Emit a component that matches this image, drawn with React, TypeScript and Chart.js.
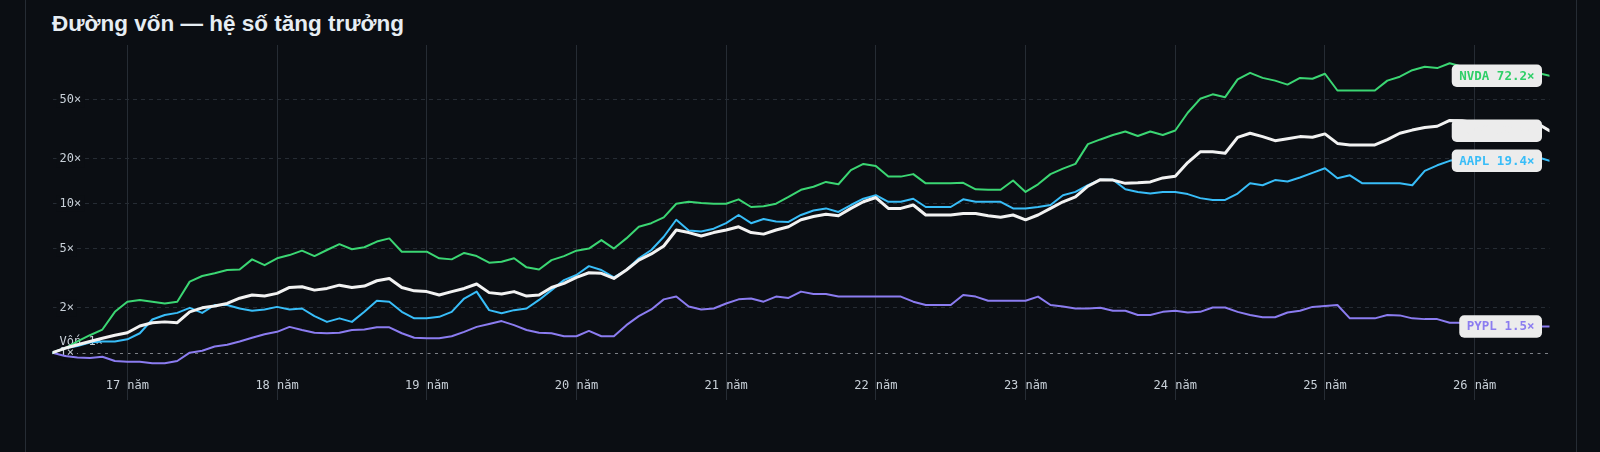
import { useEffect, useRef } from "react"
import { Chart, registerables } from "chart.js"

Chart.register(...registerables)

// month of each sample (first trading month = 1×)
const months = [
  "2016-07", "2016-08", "2016-09", "2016-10", "2016-11", "2016-12",
  "2017-01", "2017-02", "2017-03", "2017-04", "2017-05", "2017-06", "2017-07", "2017-08", "2017-09", "2017-10", "2017-11", "2017-12",
  "2018-01", "2018-02", "2018-03", "2018-04", "2018-05", "2018-06", "2018-07", "2018-08", "2018-09", "2018-10", "2018-11", "2018-12",
  "2019-01", "2019-02", "2019-03", "2019-04", "2019-05", "2019-06", "2019-07", "2019-08", "2019-09", "2019-10", "2019-11", "2019-12",
  "2020-01", "2020-02", "2020-03", "2020-04", "2020-05", "2020-06", "2020-07", "2020-08", "2020-09", "2020-10", "2020-11", "2020-12",
  "2021-01", "2021-02", "2021-03", "2021-04", "2021-05", "2021-06", "2021-07", "2021-08", "2021-09", "2021-10", "2021-11", "2021-12",
  "2022-01", "2022-02", "2022-03", "2022-04", "2022-05", "2022-06", "2022-07", "2022-08", "2022-09", "2022-10", "2022-11", "2022-12",
  "2023-01", "2023-02", "2023-03", "2023-04", "2023-05", "2023-06", "2023-07", "2023-08", "2023-09", "2023-10", "2023-11", "2023-12",
  "2024-01", "2024-02", "2024-03", "2024-04", "2024-05", "2024-06", "2024-07", "2024-08", "2024-09", "2024-10", "2024-11", "2024-12",
  "2025-01", "2025-02", "2025-03", "2025-04", "2025-05", "2025-06", "2025-07", "2025-08", "2025-09", "2025-10", "2025-11", "2025-12",
  "2026-01", "2026-02", "2026-03", "2026-04", "2026-05", "2026-06", "2026-07",
]

const tong = [
  1.0, 1.07, 1.13, 1.19, 1.25, 1.31,
  1.36, 1.51, 1.59, 1.61, 1.59, 1.88, 2.0, 2.06, 2.14, 2.32, 2.44, 2.4,
  2.5, 2.74, 2.77, 2.63, 2.7, 2.84, 2.74, 2.8, 3.04, 3.15, 2.74, 2.6,
  2.57, 2.44, 2.57, 2.7, 2.89, 2.53, 2.48, 2.57, 2.4, 2.44, 2.74, 2.92,
  3.2, 3.44, 3.41, 3.15, 3.59, 4.18, 4.6, 5.2, 6.66, 6.4, 6.07, 6.4,
  6.66, 7.0, 6.4, 6.25, 6.66, 7.0, 7.8, 8.2, 8.5, 8.3, 9.3, 10.3,
  11.0, 9.3, 9.3, 9.8, 8.4, 8.4, 8.4, 8.6, 8.6, 8.3, 8.1, 8.4,
  7.8, 8.4, 9.3, 10.3, 11.1, 13.1, 14.5, 14.4, 13.7, 13.8, 14.0, 14.9,
  15.3, 18.9, 22.3, 22.3, 21.8, 27.9, 29.7, 28.2, 26.5, 27.3, 28.2, 27.9,
  29.4, 25.4, 24.8, 24.8, 24.8, 26.9, 29.7, 31.2, 32.5, 33.1, 36.2, 36.0,
  35.0, 34.0, 31.6, 30.8, 33.5, 34.6, 30.9,
]

const nvda = [
  1.0, 1.07, 1.19, 1.31, 1.43, 1.88,
  2.2, 2.26, 2.2, 2.14, 2.2, 3.0, 3.27, 3.41, 3.59, 3.62, 4.23, 3.87,
  4.3, 4.52, 4.84, 4.45, 4.89, 5.35, 4.95, 5.1, 5.57, 5.85, 4.76, 4.76,
  4.76, 4.3, 4.23, 4.67, 4.45, 4.02, 4.08, 4.3, 3.74, 3.62, 4.18, 4.45,
  4.84, 5.0, 5.7, 5.0, 5.85, 7.0, 7.4, 8.1, 10.0, 10.3, 10.1, 10.0,
  10.0, 10.7, 9.5, 9.6, 10.0, 11.1, 12.4, 13.0, 14.0, 13.5, 16.8, 18.5,
  17.9, 15.2, 15.2, 15.8, 13.7, 13.7, 13.7, 13.8, 12.5, 12.4, 12.4, 14.3,
  12.0, 13.5, 15.8, 17.2, 18.5, 25.1, 27.0, 28.9, 30.5, 28.5, 30.5, 28.9,
  31.0, 40.8, 50.6, 54.2, 51.9, 68.3, 75.6, 69.9, 67.0, 63.0, 69.9, 69.0,
  74.5, 57.5, 57.5, 57.5, 57.5, 67.0, 71.2, 78.7, 83.0, 81.3, 87.6, 83.0,
  81.0, 80.0, 78.0, 81.0, 78.0, 75.6, 72.2,
]

const aapl = [
  1.0, 1.07, 1.11, 1.17, 1.19, 1.19,
  1.23, 1.35, 1.67, 1.79, 1.85, 2.0, 1.85, 2.09, 2.09, 1.98, 1.91, 1.95,
  2.03, 1.95, 1.98, 1.76, 1.61, 1.7, 1.61, 1.88, 2.23, 2.2, 1.88, 1.7,
  1.7, 1.74, 1.88, 2.31, 2.57, 1.93, 1.84, 1.93, 1.98, 2.26, 2.63, 3.07,
  3.32, 3.81, 3.59, 3.2, 3.59, 4.3, 4.89, 6.0, 7.8, 6.6, 6.5, 6.8,
  7.4, 8.4, 7.4, 7.9, 7.6, 7.55, 8.4, 9.0, 9.3, 8.8, 9.8, 10.8,
  11.4, 10.3, 10.3, 10.8, 9.5, 9.5, 9.5, 10.7, 10.3, 10.3, 10.3, 9.3,
  9.3, 9.5, 9.8, 11.4, 12.0, 13.3, 14.5, 14.5, 12.5, 12.0, 11.7, 12.0,
  12.0, 11.6, 10.9, 10.6, 10.6, 11.7, 13.7, 13.3, 14.4, 14.1, 15.0, 16.1,
  17.3, 14.8, 15.5, 13.7, 13.7, 13.7, 13.7, 13.3, 16.6, 18.1, 19.4, 20.1,
  20.6, 20.8, 20.4, 20.8, 21.3, 20.6, 19.4,
]

const pypl = [
  1.0, 0.95, 0.93, 0.92, 0.94, 0.88,
  0.87, 0.87, 0.85, 0.85, 0.88, 1.0, 1.03, 1.1, 1.13, 1.19, 1.26, 1.33,
  1.38, 1.49, 1.42, 1.36, 1.35, 1.36, 1.42, 1.43, 1.48, 1.48, 1.35, 1.26,
  1.25, 1.25, 1.29, 1.38, 1.49, 1.56, 1.63, 1.53, 1.42, 1.36, 1.35, 1.29,
  1.29, 1.4, 1.29, 1.29, 1.53, 1.76, 1.95, 2.28, 2.38, 2.04, 1.95, 1.98,
  2.14, 2.28, 2.31, 2.2, 2.38, 2.33, 2.57, 2.48, 2.48, 2.38, 2.38, 2.38,
  2.38, 2.38, 2.38, 2.2, 2.09, 2.09, 2.09, 2.44, 2.38, 2.23, 2.23, 2.23,
  2.23, 2.38, 2.09, 2.04, 1.98, 1.98, 2.0, 1.91, 1.91, 1.79, 1.79, 1.88,
  1.91, 1.86, 1.88, 2.01, 2.01, 1.88, 1.79, 1.73, 1.73, 1.86, 1.91, 2.03,
  2.06, 2.09, 1.7, 1.7, 1.7, 1.79, 1.78, 1.7, 1.68, 1.68, 1.59, 1.59,
  1.56, 1.52, 1.5, 1.5, 1.5, 1.5, 1.5,
]

const yTicks = [1, 2, 5, 10, 20, 50]
const yearTicks = [2017, 2018, 2019, 2020, 2021, 2022, 2023, 2024, 2025, 2026]

const BOX = "#ececec"

// white series text matches its box, as in the source
const series = [
  { name: "TỔNG", values: tong, color: "#f2f2f2", text: "#ececec", width: 3 },
  { name: "NVDA", values: nvda, color: "#3bd673", text: "#2fcf68", width: 2 },
  { name: "AAPL", values: aapl, color: "#38bdf8", text: "#38bdf8", width: 2 },
  { name: "PYPL", values: pypl, color: "#8b7cf0", text: "#8b7cf0", width: 2 },
]

const BG = "#0b0e13"
const GRID = "#262c34"
const LABEL = "#c9d1d9"
const MONO = "'DejaVu Sans Mono', monospace"

const toYear = (m: string) => Number(m.slice(0, 4)) + (Number(m.slice(5, 7)) - 1) / 12

const baselinePlugin = {
  id: "baseline",
  beforeDraw(chart: any) {
    const { ctx, chartArea } = chart
    const y = Math.round(chart.scales.y.getPixelForValue(1)) + 0.5
    ctx.save()
    ctx.strokeStyle = "rgba(200,205,212,0.6)"
    ctx.lineWidth = 1
    ctx.setLineDash([3, 4.5])
    ctx.beginPath()
    ctx.moveTo(chartArea.left, y)
    ctx.lineTo(chartArea.right, y)
    ctx.stroke()
    ctx.restore()
  },
  beforeDatasetsDraw(chart: any) {
    const { ctx, chartArea } = chart
    const y = chart.scales.y.getPixelForValue(1)
    ctx.save()
    ctx.font = `12px ${MONO}`
    ctx.fillStyle = LABEL
    ctx.textBaseline = "middle"
    ctx.fillText("Vốn 1×", chartArea.left + 7, y - 11)
    ctx.restore()
  },
}

const endLabelPlugin = {
  id: "endLabels",
  afterDatasetsDraw(chart: any) {
    const ctx = chart.ctx
    ctx.save()
    ctx.font = `bold 12.5px ${MONO}`
    ctx.textBaseline = "middle"
    series.forEach((s, i) => {
      const meta = chart.getDatasetMeta(i)
      const pt = meta.data[meta.data.length - 1]
      if (!pt) return
      const text = `${s.name} ${s.values[s.values.length - 1].toFixed(1)}×`
      const w = ctx.measureText(text).width + 15
      const h = 22.5
      const x = pt.x - 7.5 - w
      ctx.fillStyle = BOX
      ctx.beginPath()
      ctx.roundRect(x, pt.y - h / 2, w, h, 5)
      ctx.fill()
      ctx.fillStyle = s.text
      ctx.fillText(text, x + 7.5, pt.y + 0.5)
    })
    ctx.restore()
  },
}

export default function App() {
  const chartRef = useRef<HTMLCanvasElement>(null)
  const chartInstance = useRef<Chart | null>(null)

  useEffect(() => {
    if (!chartRef.current) return
    if (chartInstance.current) chartInstance.current.destroy()

    const xs = months.map(toYear)

    chartInstance.current = new Chart(chartRef.current, {
      type: "line",
      data: {
        datasets: series.map((s) => ({
          label: s.name,
          data: s.values.map((v, i) => ({ x: xs[i], y: v })),
          borderColor: s.color,
          borderWidth: s.width,
          pointRadius: 0,
          tension: 0,
          borderJoinStyle: "round" as const,
          borderCapStyle: "round" as const,
          fill: false,
        })),
      },
      options: {
        animation: false,
        responsive: true,
        maintainAspectRatio: false,
        layout: { padding: { left: 52.5, right: 50.5, top: 45, bottom: 0 } },
        plugins: {
          legend: { display: false },
          tooltip: { enabled: false },
          title: { display: false },
        },
        scales: {
          x: {
            type: "linear",
            min: 2016.5,
            max: 2026.5,
            bounds: "data",
            afterBuildTicks: (scale: any) => {
              scale.ticks = yearTicks.map((v) => ({ value: v }))
            },
            afterFit: (scale: any) => {
              scale.height = 80
            },
            grid: { color: GRID, lineWidth: 1, drawTicks: true, tickLength: 28, tickColor: GRID },
            border: { display: false },
            ticks: {
              padding: -21,
              color: LABEL,
              font: { family: MONO, size: 12 },
              maxRotation: 0,
              autoSkip: false,
              callback: (v: any) => `${Number(v) - 2000} năm`,
            },
          },
          y: {
            type: "logarithmic",
            position: "left",
            min: 0.742,
            max: 116.2,
            bounds: "data",
            afterBuildTicks: (scale: any) => {
              scale.ticks = yTicks.map((v) => ({ value: v }))
            },
            afterFit: (scale: any) => {
              scale.width = 0
            },
            grid: {
              color: (c: any) => (c.tick && c.tick.value === 1 ? "rgba(0,0,0,0)" : GRID),
              lineWidth: 1,
              drawTicks: false,
            },
            border: { display: false, dash: [4, 4] },
            ticks: {
              mirror: true,
              padding: 7,
              color: LABEL,
              font: { family: MONO, size: 12 },
              autoSkip: false,
              showLabelBackdrop: true,
              backdropColor: BG,
              backdropPadding: { x: 3, y: 1 },
              callback: (v: any) => `${v}×`,
            },
          },
        },
      },
      plugins: [baselinePlugin, endLabelPlugin],
    } as any)

    return () => {
      if (chartInstance.current) {
        chartInstance.current.destroy()
        chartInstance.current = null
      }
    }
  }, [])

  return (
    <div style={{ position: "fixed", left: 0, top: 0, width: 1600, height: 452, background: BG, overflow: "hidden" }}>
      <div
        style={{
          position: "absolute",
          left: 25,
          top: -10,
          width: 1550,
          height: 480,
          borderLeft: `1px solid ${GRID}`,
          borderRight: `1px solid ${GRID}`,
        }}
      />
      <div
        style={{
          position: "absolute",
          left: 52,
          top: 12.7,
          font: "bold 22.5px 'Liberation Sans', Arial, sans-serif",
          lineHeight: 1,
          color: "#e6edf3",
          whiteSpace: "nowrap",
        }}
      >
        Đường vốn — hệ số tăng trưởng
      </div>
      <div style={{ position: "absolute", left: 0, top: 0, width: 1600, height: 452 }}>
        <canvas ref={chartRef} />
      </div>
    </div>
  )
}
